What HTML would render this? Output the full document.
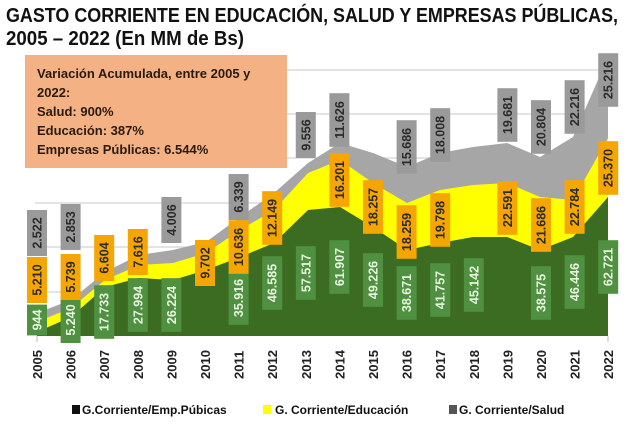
<!DOCTYPE html>
<html><head><meta charset="utf-8"><style>
body{margin:0;background:#fff;}
svg{display:block;font-family:"Liberation Sans",sans-serif;}
.y{font-weight:bold;font-size:13px;fill:#222;}
.g{fill:#4f9140;}
.o{fill:#f5a602;}
.s{fill:#9a9a9a;}
.lt{font-weight:bold;font-size:12px;}
</style></head><body>
<svg width="640" height="432" viewBox="0 0 640 432">
<text x="6" y="22" font-size="20" font-weight="bold" fill="#111" textLength="612" lengthAdjust="spacingAndGlyphs">GASTO CORRIENTE EN EDUCACIÓN, SALUD Y EMPRESAS PÚBLICAS,</text>
<text x="6" y="45" font-size="20" font-weight="bold" fill="#111" textLength="238" lengthAdjust="spacingAndGlyphs">2005 – 2022 (En MM de Bs)</text>
<g stroke="#d4d4d4" stroke-width="1.2">
<line x1="35" y1="70" x2="608" y2="70"/><line x1="35" y1="114" x2="608" y2="114"/><line x1="35" y1="158" x2="608" y2="158"/><line x1="35" y1="203" x2="608" y2="203"/><line x1="35" y1="247" x2="608" y2="247"/><line x1="35" y1="292" x2="608" y2="292"/>
</g>
<rect x="25" y="55" width="262" height="113" fill="#f4b183"/>
<g font-weight="bold" font-size="13" fill="#2a1a10">
<text x="37" y="78">Variación Acumulada, entre 2005 y</text>
<text x="37" y="97">2022:</text>
<text x="37" y="116">Salud: 900%</text>
<text x="37" y="135">Educación: 387%</text>
<text x="37" y="154">Empresas Públicas: 6.544%</text>
</g>
<!-- areas -->
<polygon fill="#a6a6a6" points="37,336 37,313 71,300 105,272 139,255 173,250 206,242 240,217 274,193 308,163 340,143 373,153 407,167 440,153 473,147 507,143 540,157 573,137 608,57 608,336"/>
<polygon fill="#ffff00" points="37,336 37,322 71,308 105,280 139,265 173,263 206,253 240,230 274,210 308,173 340,160 373,183 407,203 440,190 473,185 507,183 540,197 573,200 608,138 608,336"/>
<polygon fill="#3c6b22" points="37,336 37,332 71,317 105,287 139,278 173,280 206,270 240,257 274,243 308,210 340,207 373,227 407,250 440,243 473,237 507,237 540,250 573,237 608,197 608,336"/>
<g stroke="#bbb"><line x1="37" y1="336" x2="37" y2="342"/><line x1="608" y1="336" x2="608" y2="342"/></g>
<g id="labels" font-weight="bold" font-size="12.5" text-anchor="middle"></g>
<g id="years" class="y"></g>
<!-- legend -->
<rect x="72" y="405" width="8" height="9" fill="#111"/>
<text x="82" y="414" class="lt" fill="#111">G.Corriente/Emp.Púbicas</text>
<rect x="263" y="405" width="8" height="9" fill="#ffff00"/>
<text x="275" y="414" class="lt" fill="#111">G. Corriente/Educación</text>
<rect x="449" y="405" width="8" height="9" fill="#555"/>
<text x="459" y="414" class="lt" fill="#111">G. Corriente/Salud</text>
<g id="static"></g>
</svg>
<script>
var ns="http://www.w3.org/2000/svg";
function X(i){return 37+i*33.6;}
var L=[
['g',0,320,'944'],['g',1,320,'5.240'],['g',2,312,'17.733'],['g',3,305,'27.994'],['g',4,305,'26.224'],['g',6,298,'35.916'],['g',7,283,'46.585'],['g',8,273,'57.517'],['g',9,267,'61.907'],['g',10,280,'49.226'],['g',11,293,'38.671'],['g',12,290,'41.757'],['g',13,285,'45.142'],['g',15,293,'38.575'],['g',16,282,'46.446'],['g',17,267,'62.721'],
['o',0,280,'5.210'],['o',1,277,'5.739'],['o',2,258,'6.604'],['o',3,252,'7.616'],['o',5,263,'9.702'],['o',6,247,'10.636'],['o',7,218,'12.149'],['o',9,180,'16.201'],['o',10,207,'18.257'],['o',11,232,'18.259'],['o',12,220,'19.798'],['o',14,208,'22.591'],['o',15,225,'21.686'],['o',16,207,'22.784'],['o',17,168,'25.370'],
['s',0,233,'2.522'],['s',1,227,'2.853'],['s',4,220,'4.006'],['s',6,197,'6.339'],['s',8,135,'9.556'],['s',9,120,'11.626'],['s',11,147,'15.686'],['s',12,135,'18.008'],['s',14,115,'19.681'],['s',15,127,'20.804'],['s',16,107,'22.216'],['s',17,80,'25.216']];
var g=document.getElementById('labels');
L.forEach(function(d){
 var x=X(d[1]),y=d[2],h=d[3].length*7.6+8;
 var r=document.createElementNS(ns,'rect');
 r.setAttribute('x',x-10);r.setAttribute('y',y-h/2);r.setAttribute('width',20);r.setAttribute('height',h);
 r.setAttribute('class',d[0]);g.appendChild(r);
 var t=document.createElementNS(ns,'text');
 t.setAttribute('transform','translate('+(x+4.5)+','+y+') rotate(-90)');
 t.setAttribute('fill',d[0]=='g'?'#e8f5e0':'#2b2b2b');
 t.textContent=d[3];g.appendChild(t);
});
var yg=document.getElementById('years');
for(var i=0;i<18;i++){
 var t=document.createElementNS(ns,'text');
 t.setAttribute('transform','translate('+(X(i)+5)+',379) rotate(-90)');
 t.textContent=2005+i;yg.appendChild(t);
}
</script>
</body></html>
